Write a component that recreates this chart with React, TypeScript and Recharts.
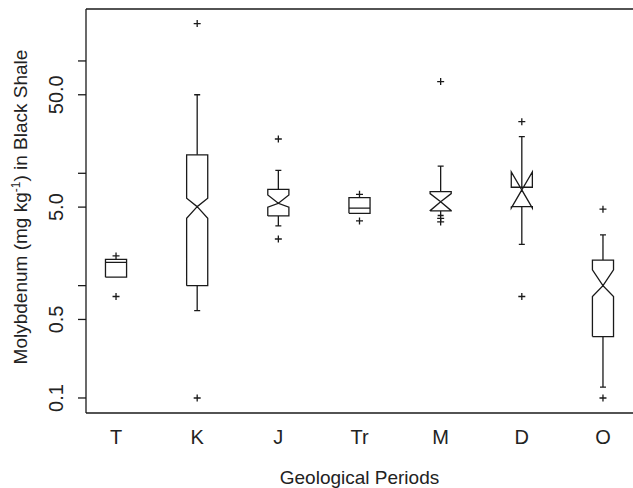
import React from "react";
import {
  ComposedChart,
  Line,
  Scatter,
  XAxis,
  YAxis,
  ReferenceLine,
  Label,
} from "recharts";

// values (mg/kg, log axis)
const categories = ["T", "K", "J", "Tr", "M", "D", "O"];
const q1 = [1.19, 1.0, 4.17, 4.4, 4.62, 5.05, 0.352];
const median = [1.61, 5.05, 5.41, 4.89, 5.59, 7.11, 1.0];
const q3 = [1.71, 14.6, 7.2, 6.07, 6.87, 7.51, 1.69];
const notchLow: (number | null)[] = [null, 3.98, 4.99, null, 4.65, 4.89, 0.8];
const notchHigh: (number | null)[] = [null, 6.0, 6.41, null, 6.6, 10.3, 1.38];
const whiskerLow = [1.19, 0.6, 3.4, 4.4, 4.21, 2.33, 0.125];
const whiskerHigh = [1.71, 50, 10.6, 6.07, 11.6, 21.2, 2.83];
const outliers = [
  [1.84, 0.8],
  [215, 0.1],
  [20.2, 2.6],
  [6.5, 3.77],
  [65.5, 3.97, 3.69],
  [28.8, 0.8],
  [4.79, 0.1],
];
const yTicks = [0.1, 0.5, 1, 5, 10, 50, 100];
const yTickLabels = ["0.1", "0.5", "", "5.0", "", "50.0", ""];

const Y_MIN = 0.0735;
const Y_MAX = 290;
const BOX_HALF = 0.13;
const CAP_HALF = 0.037;
const INK = "#1a1a1a";
const FONT = "'Liberation Sans', Arial, Helvetica, sans-serif";

type Pt = { x: number; y: number | null };

const boxPath: Pt[] = [];
const whiskerPath: Pt[] = [];
categories.forEach((_, i) => {
  const c = i + 1;
  const l = c - BOX_HALF;
  const r = c + BOX_HALF;
  const lo = notchLow[i];
  const hi = notchHigh[i];
  if (lo != null && hi != null) {
    boxPath.push(
      { x: l, y: q1[i] },
      { x: l, y: lo },
      { x: c, y: median[i] },
      { x: l, y: hi },
      { x: l, y: q3[i] },
      { x: r, y: q3[i] },
      { x: r, y: hi },
      { x: c, y: median[i] },
      { x: r, y: lo },
      { x: r, y: q1[i] },
      { x: l, y: q1[i] },
      { x: c, y: null }
    );
  } else {
    boxPath.push(
      { x: l, y: q1[i] },
      { x: l, y: q3[i] },
      { x: r, y: q3[i] },
      { x: r, y: q1[i] },
      { x: l, y: q1[i] },
      { x: c, y: null },
      { x: l, y: median[i] },
      { x: r, y: median[i] },
      { x: c, y: null }
    );
  }
  if (whiskerHigh[i] > q3[i]) {
    whiskerPath.push(
      { x: c, y: q3[i] },
      { x: c, y: whiskerHigh[i] },
      { x: c, y: null },
      { x: c - CAP_HALF, y: whiskerHigh[i] },
      { x: c + CAP_HALF, y: whiskerHigh[i] },
      { x: c, y: null }
    );
  }
  if (whiskerLow[i] < q1[i]) {
    whiskerPath.push(
      { x: c, y: q1[i] },
      { x: c, y: whiskerLow[i] },
      { x: c, y: null },
      { x: c - CAP_HALF, y: whiskerLow[i] },
      { x: c + CAP_HALF, y: whiskerLow[i] },
      { x: c, y: null }
    );
  }
});

const outlierPoints = outliers.flatMap((vals, i) =>
  vals.map((v) => ({ x: i + 1, y: v }))
);

const Plus = (props: any) => {
  const { cx, cy } = props;
  if (cx == null || cy == null) return null;
  return (
    <path
      d={`M${cx - 3.5},${cy}H${cx + 3.5}M${cx},${cy - 3.5}V${cy + 3.5}`}
      stroke={INK}
      strokeWidth={1.3}
      fill="none"
    />
  );
};

const YTick = (props: any) => {
  const { x, y, payload } = props;
  const idx = yTicks.indexOf(payload.value);
  const txt = idx >= 0 ? yTickLabels[idx] : "";
  if (!txt) return null;
  return (
    <text
      x={x}
      y={y}
      transform={`rotate(-90, ${x}, ${y})`}
      textAnchor="middle"
      fontFamily={FONT}
      fontSize={20}
      fill="#222"
    >
      {txt}
    </text>
  );
};

const XTick = (props: any) => {
  const { x, y, payload } = props;
  return (
    <text
      x={x}
      y={y + 31}
      textAnchor="middle"
      fontFamily={FONT}
      fontSize={20}
      fill="#222"
    >
      {categories[payload.value - 1]}
    </text>
  );
};

export default function App() {
  return (
    <div style={{ position: "absolute", left: 0, top: 0, background: "#fff" }}>
      <ComposedChart
        width={633}
        height={488}
        margin={{ top: 9, right: 0, bottom: 0, left: 0 }}
      >
        <XAxis
          type="number"
          dataKey="x"
          domain={[0.63, 7.37]}
          allowDataOverflow
          ticks={[1, 2, 3, 4, 5, 6, 7]}
          tick={<XTick />}
          tickLine={false}
          tickSize={0}
          tickMargin={0}
          height={75}
          axisLine={{ stroke: INK, strokeWidth: 1.3 }}
        >
          <Label
            content={(p: any) => {
              const vb = p.viewBox || {};
              return (
                <text
                  x={vb.x + vb.width / 2}
                  y={vb.y + 71}
                  textAnchor="middle"
                  fontFamily={FONT}
                  fontSize={19}
                  fill="#222"
                >
                  Geological Periods
                </text>
              );
            }}
          />
        </XAxis>
        <YAxis
          type="number"
          dataKey="y"
          scale="log"
          domain={[Y_MIN, Y_MAX]}
          allowDataOverflow
          ticks={yTicks}
          tick={<YTick />}
          tickSize={8}
          tickMargin={15}
          width={86}
          interval={0}
          axisLine={{ stroke: INK, strokeWidth: 1.3 }}
          tickLine={{ stroke: INK, strokeWidth: 1.3 }}
        >
          <Label
            content={(p: any) => {
              const vb = p.viewBox || {};
              const cx = 27;
              const cy = vb.y + vb.height / 2 - 4;
              return (
                <text
                  x={cx}
                  y={cy}
                  transform={`rotate(-90, ${cx}, ${cy})`}
                  textAnchor="middle"
                  fontFamily={FONT}
                  fontSize={19}
                  fill="#222"
                >
                  Molybdenum (mg kg
                  <tspan fontSize={12} dy={-7}>
                    -1
                  </tspan>
                  <tspan dy={7}>) in Black Shale</tspan>
                </text>
              );
            }}
          />
        </YAxis>
        <ReferenceLine y={Y_MAX} stroke={INK} strokeWidth={1.3} />
        <Line
          data={whiskerPath}
          dataKey="y"
          stroke={INK}
          strokeWidth={1.3}
          dot={false}
          activeDot={false}
          isAnimationActive={false}
          type="linear"
        />
        <Line
          data={boxPath}
          dataKey="y"
          stroke={INK}
          strokeWidth={1.3}
          dot={false}
          activeDot={false}
          isAnimationActive={false}
          type="linear"
        />
        <Scatter
          data={outlierPoints}
          dataKey="y"
          shape={<Plus />}
          isAnimationActive={false}
        />
      </ComposedChart>
    </div>
  );
}
